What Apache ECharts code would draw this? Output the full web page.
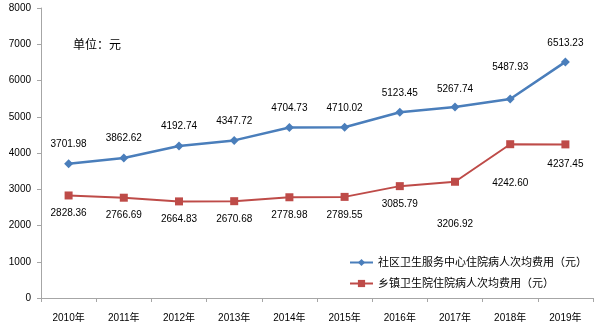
<!DOCTYPE html>
<html>
<head>
<meta charset="utf-8">
<script src="https://cdn.jsdelivr.net/npm/echarts@6/dist/echarts.min.js"></script>
<style>
  html, body { margin: 0; padding: 0; background: #fff; }
  #chart { width: 600px; height: 334px; }
</style>
</head>
<body>
<div id="chart"></div>
<script>
// Per-inpatient average cost, 2010-2019 (yuan)
const years = ['2010年', '2011年', '2012年', '2013年', '2014年', '2015年', '2016年', '2017年', '2018年', '2019年'];
const communityCost = [3701.98, 3862.62, 4192.74, 4347.72, 4704.73, 4710.02, 5123.45, 5267.74, 5487.93, 6513.23];
const townshipCost = [2828.36, 2766.69, 2664.83, 2670.68, 2778.98, 2789.55, 3085.79, 3206.92, 4242.60, 4237.45];
const seriesNames = ['社区卫生服务中心住院病人次均费用（元）', '乡镇卫生院住院病人次均费用（元）'];
const yTicks = { min: 0, max: 8000, interval: 1000 };

// Label distances from their points, per year index
const communityLabelGap = [10, 10, 10, 10, 10, 10, 10, 8, 22, 9];
const townshipLabelGap = [9, 9, 9, 9, 9, 9, 9, 34, 30, 11];

const BLUE = '#4A7EBB';
const RED = '#BE4B48';
const FONT = '"Liberation Sans", "Noto Sans CJK SC", sans-serif';

function withGaps(values, gaps, pos) {
  return values.map((v, i) => ({
    value: v,
    label: { position: pos, distance: gaps[i] }
  }));
}

const chart = echarts.init(document.getElementById('chart'));
chart.setOption({
  animation: false,
  textStyle: { fontFamily: FONT },
  grid: { left: 41, right: 7, top: 8, bottom: 36, containLabel: false },
  graphic: [{
    type: 'text', left: 73, top: 40,
    style: { text: '单位：元', font: '12px ' + FONT, fill: '#000' }
  }],
  legend: {
    orient: 'vertical',
    left: 344, top: 252,
    itemWidth: 23, itemHeight: 9, itemGap: 10,
    textStyle: { fontSize: 11, color: '#000', fontFamily: FONT },
    data: [seriesNames[0], seriesNames[1]]
  },
  xAxis: {
    type: 'category',
    data: years,
    boundaryGap: true,
    axisLine: { lineStyle: { color: '#A6A6A6', width: 1 } },
    axisTick: { show: true, length: 4, lineStyle: { color: '#A6A6A6' } },
    axisLabel: { fontSize: 10, color: '#000', margin: 15 }
  },
  yAxis: {
    type: 'value',
    min: yTicks.min, max: yTicks.max, interval: yTicks.interval,
    axisLine: { show: true, lineStyle: { color: '#A6A6A6', width: 1 } },
    axisTick: { show: true, inside: false, length: 4, lineStyle: { color: '#A6A6A6' } },
    splitLine: { show: false },
    axisLabel: { fontSize: 10, color: '#000', margin: 10, formatter: v => String(v) }
  },
  series: [
    {
      name: seriesNames[0],
      type: 'line',
      data: withGaps(communityCost, communityLabelGap, 'top'),
      symbol: 'diamond', symbolSize: 9,
      lineStyle: { color: BLUE, width: 2.5 },
      itemStyle: { color: BLUE },
      label: {
        show: true, fontSize: 10, color: '#000',
        formatter: p => p.value.toFixed(2)
      }
    },
    {
      name: seriesNames[1],
      type: 'line',
      data: withGaps(townshipCost, townshipLabelGap, 'bottom'),
      symbol: 'rect', symbolSize: 8,
      lineStyle: { color: RED, width: 2 },
      itemStyle: { color: RED },
      label: {
        show: true, fontSize: 10, color: '#000',
        formatter: p => p.value.toFixed(2)
      }
    }
  ]
});
</script>
</body>
</html>
